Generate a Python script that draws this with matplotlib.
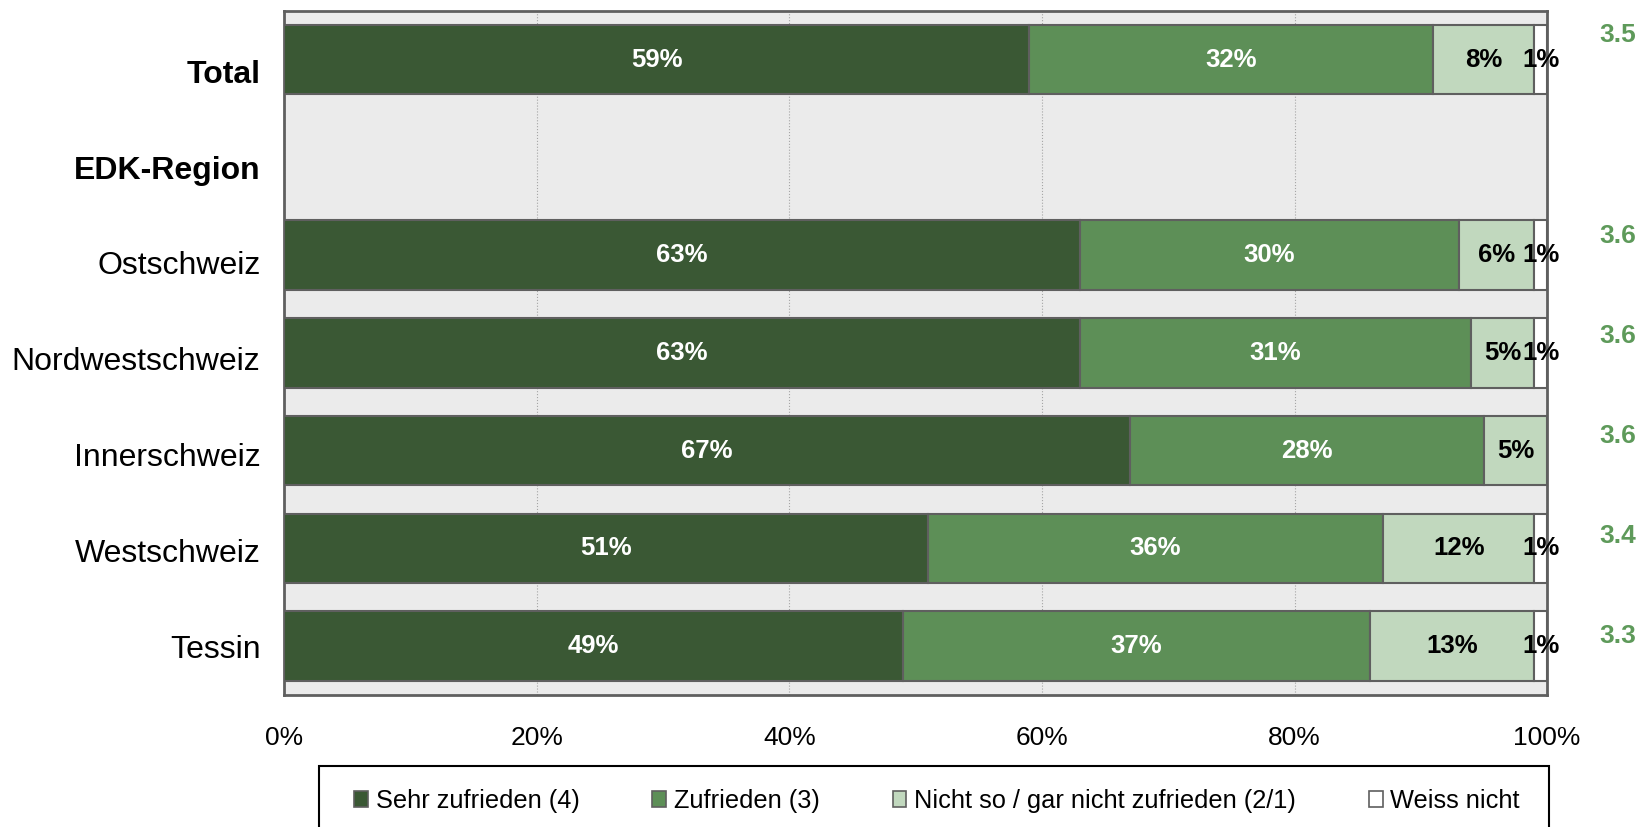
import matplotlib.pyplot as plt
from matplotlib.patches import Patch, Rectangle
from matplotlib.ticker import PercentFormatter
import numpy as np

plt.rcParams['font.family'] = ['Liberation Sans', 'DejaVu Sans']

# data
categories = ['Total', 'EDK-Region', 'Ostschweiz', 'Nordwestschweiz',
              'Innerschweiz', 'Westschweiz', 'Tessin']
bold_cats = ['Total', 'EDK-Region']
sehr = [59, 0, 63, 63, 67, 51, 49]
zufrieden = [32, 0, 30, 31, 28, 36, 37]
nicht = [8, 0, 6, 5, 5, 12, 13]
weiss = [1, 0, 1, 1, 0, 1, 1]
scores = ['3.5', '', '3.6', '3.6', '3.6', '3.4', '3.3']
series_names = ['Sehr zufrieden (4)', 'Zufrieden (3)',
                'Nicht so / gar nicht zufrieden (2/1)', 'Weiss nicht']

colors = ['#3A5834', '#5D8F57', '#C1D8BE', '#FFFFFF']
text_colors = ['white', 'white', 'black', 'black']
edge = '#5F5F5F'
score_color = '#5E9A5A'

fig = plt.figure(figsize=(16.52, 8.27), dpi=100)
ax = fig.add_axes([0.172, 0.1596, 0.7645, 0.8274])
ax.set_facecolor('#EBEBEB')

y = np.arange(len(categories))
series = [sehr, zufrieden, nicht, weiss]
left = np.zeros(len(categories))
for vals, col, tcol, name in zip(series, colors, text_colors, series_names):
    vals = np.array(vals, dtype=float)
    mask = vals > 0
    ax.barh(y[mask], vals[mask], left=left[mask], height=0.71, color=col,
            edgecolor=edge, linewidth=1.5, zorder=3)
    for yi, v, l in zip(y[mask], vals[mask], left[mask]):
        ax.text(l + v / 2, yi, f'{int(v)}%', ha='center', va='center',
                color=tcol, fontsize=18.5, fontweight='bold', zorder=5,
                clip_on=False)
    left += vals

# mean scores on the right
for i, s in enumerate(scores):
    if s:
        ax.text(1.056, i * 1.025 - 0.25, s, transform=ax.get_yaxis_transform(),
                ha='center', va='center', color=score_color, fontsize=19,
                fontweight='bold')

ax.set_xlim(0, 100)
ax.set_ylim(len(categories) - 0.5, -0.5)
ax.xaxis.set_major_formatter(PercentFormatter(decimals=0))
ax.set_xticks(np.arange(0, 101, 20))
ax.tick_params(axis='x', length=0, pad=22, labelsize=19)
ax.set_yticks(y * 0.98 + 0.12)
ax.set_yticklabels(categories, fontsize=23)
for lab in ax.get_yticklabels():
    if lab.get_text() in bold_cats:
        lab.set_fontweight('bold')
ax.tick_params(axis='y', length=0, pad=17)

ax.grid(axis='x', color='#A5A5A5', linewidth=0.8, linestyle=':', zorder=0)
ax.set_axisbelow(True)
for sp in ax.spines.values():
    sp.set_color(edge)
    sp.set_linewidth(2)

# legend without its own frame, box drawn separately
handles = [Patch(facecolor=c, edgecolor=edge, linewidth=1.2) for c in colors]
leg = fig.legend(handles, series_names, loc='center left', ncol=4,
                 bbox_to_anchor=(354 / 1652, 1 - 801 / 827, 1166 / 1652, 0.0),
                 mode='expand', fontsize=18.3, frameon=False,
                 handlelength=0.55, handleheight=0.55, handletextpad=0.3,
                 borderpad=0, borderaxespad=0)
fig.patches.append(Rectangle((319 / 1652, -0.05), 1230 / 1652,
                             0.05 + 1 - 766 / 827, transform=fig.transFigure,
                             fill=False, edgecolor='black', linewidth=1.5))

fig.savefig('out.png', dpi=100)
